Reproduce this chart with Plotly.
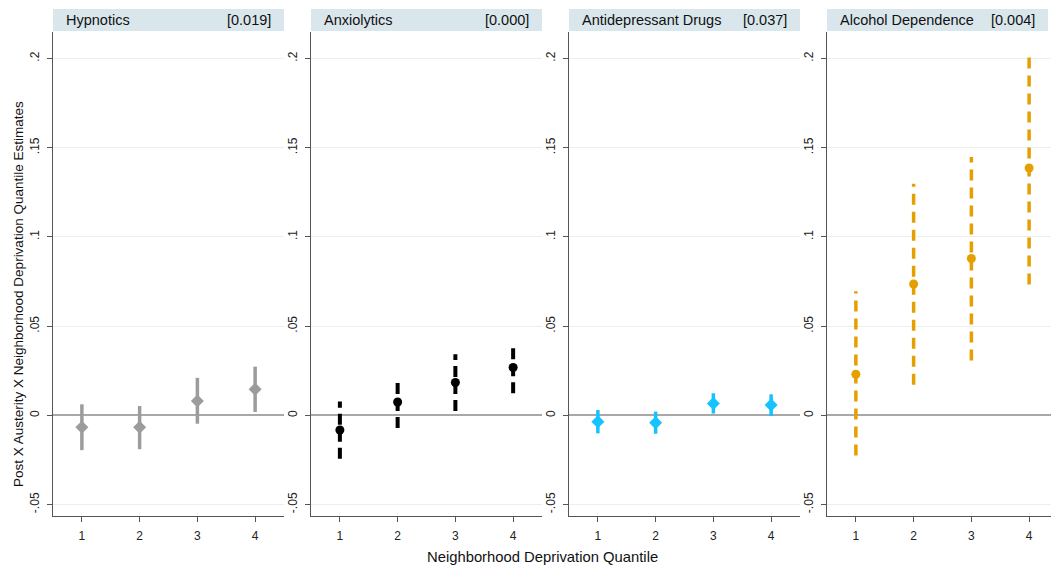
import plotly.graph_objects as go

# ---------------- data ----------------
quantiles = [1, 2, 3, 4]
panel_titles = ["Hypnotics", "Anxiolytics", "Antidepressant Drugs", "Alcohol Dependence"]
panel_pvalues = ["[0.019]", "[0.000]", "[0.037]", "[0.004]"]

hyp_est = [-0.0067, -0.0067, 0.0080, 0.0146]
hyp_lo = [-0.0195, -0.0190, -0.0047, 0.0019]
hyp_hi = [0.0062, 0.0052, 0.0210, 0.0273]

anx_est = [-0.0082, 0.0075, 0.0184, 0.0268]
anx_lo = [-0.0243, -0.0071, 0.0024, 0.0124]
anx_hi = [0.0077, 0.0198, 0.0343, 0.0395]

dep_est = [-0.0036, -0.0041, 0.0067, 0.0058]
dep_lo = [-0.0101, -0.0103, 0.0010, -0.0004]
dep_hi = [0.0030, 0.0021, 0.0124, 0.0118]

alc_est = [0.0230, 0.0736, 0.0879, 0.1386]
alc_lo = [-0.0225, 0.0172, 0.0307, 0.0733]
alc_hi = [0.0695, 0.1298, 0.1448, 0.2028]

y_tickvals = [-0.05, 0, 0.05, 0.1, 0.15, 0.2]
y_ticktext = ["-.05", "0", ".05", ".1", ".15", ".2"]
x_tickvals = [1, 2, 3, 4]
x_ticktext = ["1", "2", "3", "4"]

# ---------------- style ----------------
W, H = 1051, 568
FONT = "Liberation Sans, Arial, Helvetica, sans-serif"
panels = [
    dict(est=hyp_est, lo=hyp_lo, hi=hyp_hi, color="#9C9C9C", symbol="diamond", msize=10, dash="solid", lw=3.5),
    dict(est=anx_est, lo=anx_lo, hi=anx_hi, color="#000000", symbol="circle", msize=9, dash="11px,6px", lw=4),
    dict(est=dep_est, lo=dep_lo, hi=dep_hi, color="#14C3FF", symbol="diamond", msize=10, dash="solid", lw=3.5),
    dict(est=alc_est, lo=alc_lo, hi=alc_hi, color="#E69F00", symbol="circle", msize=9, dash="11px,7px", lw=3.5),
]

px_left = [53, 311, 569, 827]
panel_w = 231
plot_top, plot_bot = 32, 516
strip_top, strip_bot = 9, 31
y_range = [-0.0564, 0.2148]
unit = panel_w / 4.0  # pixels per quantile step

fig = go.Figure()
layout = dict(
    width=W, height=H,
    margin=dict(l=0, r=0, t=0, b=0),
    paper_bgcolor="white", plot_bgcolor="white",
    showlegend=False,
    font=dict(family=FONT, size=12, color="#222222"),
    shapes=[], annotations=[],
)

for i, p in enumerate(panels):
    k = "" if i == 0 else str(i + 1)
    x0 = px_left[i]
    x1 = x0 + panel_w
    xr = [0.5, 4.5]
    if x1 > W:
        xr = [0.5, 0.5 + (W - x0) / unit]
        x1d = W
    else:
        x1d = x1
    # CI segments
    cx, cy = [], []
    for q, lo, hi in zip(quantiles, p["lo"], p["hi"]):
        cx += [q, q, None]
        cy += [lo, hi, None]
    fig.add_trace(go.Scatter(
        x=cx, y=cy, mode="lines", xaxis="x" + k, yaxis="y" + k,
        line=dict(color=p["color"], width=p["lw"], dash=p["dash"]),
        hoverinfo="skip", connectgaps=False,
    ))
    fig.add_trace(go.Scatter(
        x=quantiles, y=p["est"], mode="markers", xaxis="x" + k, yaxis="y" + k,
        marker=dict(color=p["color"], symbol=p["symbol"], size=p["msize"], line=dict(width=0)),
    ))
    layout["xaxis" + k] = dict(
        domain=[x0 / W, x1d / W], range=xr, anchor="y" + k,
        tickvals=x_tickvals, ticktext=x_ticktext,
        showgrid=False, zeroline=False,
        showline=True, linecolor="#555555", linewidth=1.3,
        ticks="outside", ticklen=5, tickwidth=1.2, tickcolor="#555555",
        ticklabelstandoff=3,
        tickfont=dict(size=12, color="#222222"),
    )
    layout["yaxis" + k] = dict(
        domain=[1 - plot_bot / H, 1 - plot_top / H], range=y_range, anchor="x" + k,
        tickvals=y_tickvals, ticktext=y_ticktext, tickangle=-90,
        showgrid=True, gridcolor="#E9F0F2", gridwidth=1,
        zeroline=True, zerolinecolor="#A8A8A8", zerolinewidth=1.6,
        showline=True, linecolor="#555555", linewidth=1.3,
        ticks="outside", ticklen=5, tickwidth=1.2, tickcolor="#555555",
        ticklabelstandoff=3,
        tickfont=dict(size=12, color="#222222"),
    )
    sx1 = min(x1, W - 3)
    layout["shapes"].append(dict(
        type="rect", xref="paper", yref="paper",
        x0=x0 / W, x1=sx1 / W, y0=1 - strip_bot / H, y1=1 - strip_top / H,
        fillcolor="#D9E6EC", line=dict(width=0), layer="below",
    ))
    layout["annotations"].append(dict(
        xref="paper", yref="paper", x=(x0 + 11) / W, y=1 - 20 / H,
        xanchor="left", yanchor="middle", showarrow=False,
        text=panel_titles[i], font=dict(size=14.5, color="#111111"),
    ))
    layout["annotations"].append(dict(
        xref="paper", yref="paper", x=(sx1 - 11) / W, y=1 - 20 / H,
        xanchor="right", yanchor="middle", showarrow=False,
        text=panel_pvalues[i], font=dict(size=14.5, color="#111111"),
    ))

layout["annotations"].append(dict(
    xref="paper", yref="paper", x=542 / W, y=1 - 557 / H,
    xanchor="center", yanchor="middle", showarrow=False,
    text="Neighborhood Deprivation Quantile", font=dict(size=14.8, color="#111111"),
))
layout["annotations"].append(dict(
    xref="paper", yref="paper", x=18 / W, y=1 - 294 / H,
    xanchor="center", yanchor="middle", showarrow=False, textangle=-90,
    text="Post X Austerity X Neighborhood Deprivation Quantile Estimates",
    font=dict(size=13.5, color="#111111"),
))

fig.update_layout(**layout)
fig.write_html("out.html")
